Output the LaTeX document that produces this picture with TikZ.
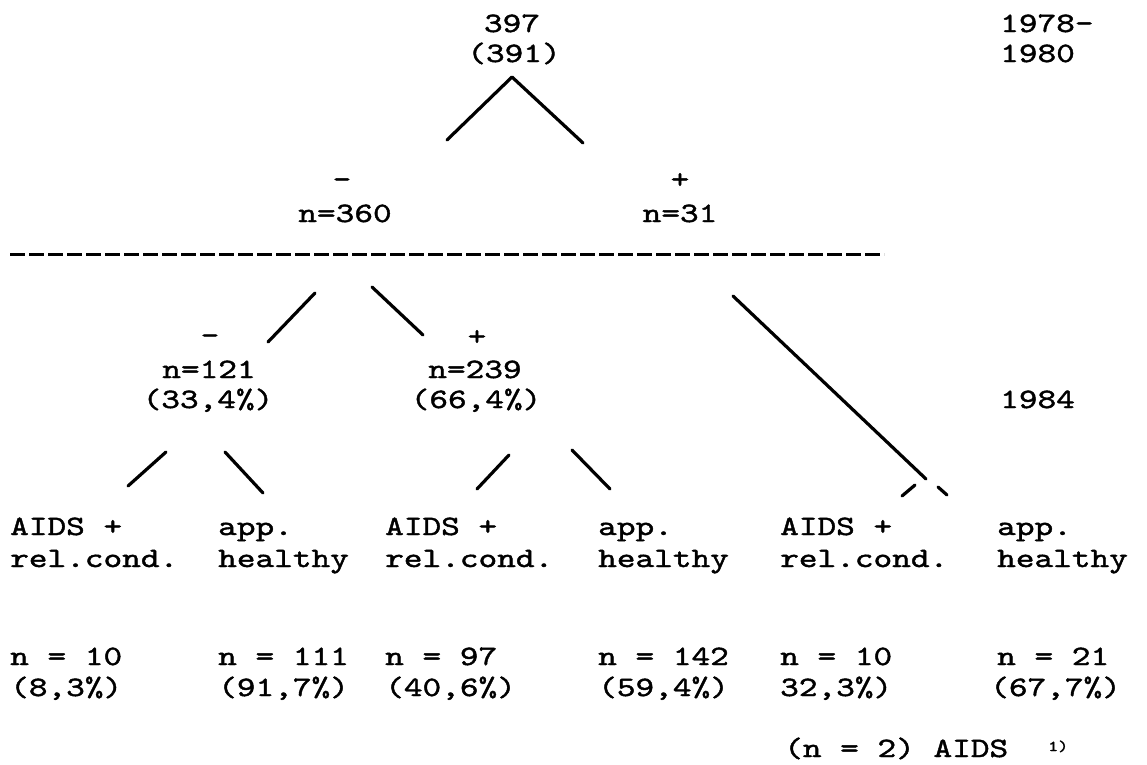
\documentclass[tikz,border=0pt]{standalone}
\usepackage{fontspec}
\setmonofont{lmmono10-regular.otf}[FakeStretch=1.27,FakeBold=1.5]
\begin{document}
\begin{tikzpicture}[x=1pt,y=-1pt,
  txt/.style={font=\fontsize{28}{31}\selectfont\ttfamily,inner sep=0pt},
  lt/.style={txt,anchor=base west},
  ct/.style={txt,anchor=base},
  sup/.style={font=\fontsize{15}{15}\selectfont\ttfamily,inner sep=0pt,anchor=base west},
  br/.style={line width=3.2pt,line cap=round},
  dline/.style={line width=3pt,dash pattern=on 15pt off 4pt}]
\useasboundingbox (0,0) rectangle (1147,764);
% top
\node[ct] (root) at (512,32) {397};
\node[ct] (root2) at (514,62) {(391)};
\node[lt] (y1) at (1000,32) {1978-};
\node[lt] (y2) at (1000,62) {1980};
\coordinate (pk) at (512,77);
\coordinate (pl) at (447,140);
\coordinate (pr) at (583,143);
\draw[br,line join=round] (pl) -- (pk) -- (pr);
% second level
\node[ct] (sm) at (342,188) {-};
\node[ct] (nm) at (345,222) {n=360};
\node[ct] (sp) at (680,188) {+};
\node[ct] (np) at (680,222) {n=31};
\coordinate (d1) at (10,254);
\coordinate (d2) at (884,254);
\draw[dline] (d1) -- (d2);
% lines to third level
\coordinate (a1) at (315,293); \coordinate (a2) at (268,342);
\coordinate (b1) at (372,287); \coordinate (b2) at (423,335);
\coordinate (c1) at (733,296); \coordinate (c2) at (926,479);
\draw[br] (a1) -- (a2);
\draw[br] (b1) -- (b2);
\draw[br] (c1) -- (c2);
% third level
\node[ct] (s121) at (210,344) {-};
\node[ct] (n121) at (209,378) {n=121};
\node[ct] (p121) at (208,408) {(33,4\%)};
\node[ct] (s239) at (477,345) {+};
\node[ct] (n239) at (475,378) {n=239};
\node[ct] (p239) at (476,408) {(66,4\%)};
\node[lt] (y3) at (1000,408) {1984};
% lines to leaves
\coordinate (e1) at (166,452); \coordinate (e2) at (128,486);
\coordinate (f1) at (225,452); \coordinate (f2) at (263,493);
\coordinate (g1) at (509,455); \coordinate (g2) at (477,489);
\coordinate (h1) at (572,450); \coordinate (h2) at (610,489);
\coordinate (i1) at (915,485); \coordinate (i2) at (902,496);
\coordinate (j1) at (938,487); \coordinate (j2) at (947,495);
\draw[br] (e1) -- (e2);
\draw[br] (f1) -- (f2);
\draw[br] (g1) -- (g2);
\draw[br] (h1) -- (h2);
\draw[br] (i1) -- (i2);
\draw[br] (j1) -- (j2);
% leaves
\node[lt] (l1a) at (10,535) {AIDS +};
\node[lt] (l1b) at (10,567) {rel.cond.};
\node[lt] (l2a) at (218,535) {app.};
\node[lt] (l2b) at (218,567) {healthy};
\node[lt] (l3a) at (385,535) {AIDS +};
\node[lt] (l3b) at (385,567) {rel.cond.};
\node[lt] (l4a) at (598,535) {app.};
\node[lt] (l4b) at (598,567) {healthy};
\node[lt] (l5a) at (780,535) {AIDS +};
\node[lt] (l5b) at (780,567) {rel.cond.};
\node[lt] (l6a) at (997,535) {app.};
\node[lt] (l6b) at (997,567) {healthy};
% counts
\node[lt] (c1n) at (10,665) {n = 10};
\node[lt] (c1p) at (10,696) {(8,3\%)};
\node[lt] (c2n) at (218,665) {n = 111};
\node[lt] (c2p) at (218,696) {(91,7\%)};
\node[lt] (c3n) at (385,665) {n = 97};
\node[lt] (c3p) at (385,696) {(40,6\%)};
\node[lt] (c4n) at (598,665) {n = 142};
\node[lt] (c4p) at (598,696) {(59,4\%)};
\node[lt] (c5n) at (780,665) {n = 10};
\node[lt] (c5p) at (780,696) {32,3\%)};
\node[lt] (c6n) at (997,665) {n = 21};
\node[lt] (c6p) at (990,696) {(67,7\%)};
% footnote
\node[lt] (fn) at (784,757) {(n = 2) AIDS};
\node[sup] (fnm) at (1048,751) {1)};
\end{tikzpicture}
\end{document}
